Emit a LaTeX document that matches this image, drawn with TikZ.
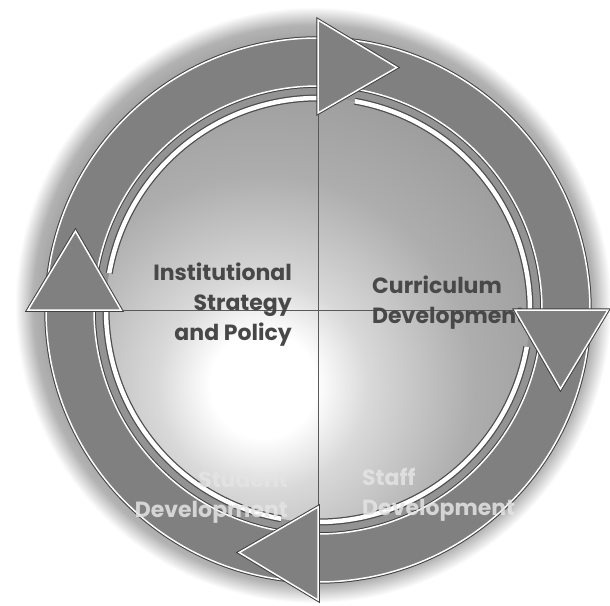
\documentclass[tikz,border=0pt]{standalone}
\usepackage{fontspec}
\setmainfont{Poppins}
\usepackage{xcolor}
\definecolor{bandc}{RGB}{128,128,128}
\definecolor{darkc}{RGB}{72,72,72}
\definecolor{lightc}{RGB}{228,228,228}
\pgfdeclareradialshading{haloshade}{\pgfpoint{0bp}{0bp}}{color(0bp)=(black!45); color(21bp)=(black!42); color(23.5bp)=(black!30); color(25bp)=(white); color(50bp)=(white)}
\pgfdeclareradialshading{discshade}{\pgfpoint{0bp}{0bp}}{color(0bp)=(white); color(4bp)=(white); color(8bp)=(black!15); color(16bp)=(black!32); color(25bp)=(black!40); color(50bp)=(black!40)}
\tikzset{
  quadtext/.style={font=\bfseries\fontsize{22}{30}\selectfont, inner sep=0pt},
  toptext/.style={quadtext, text=darkc},
  bottext/.style={quadtext, text=lightc, opacity=0.85},
  divider/.style={draw=black!65, line width=0.8pt},
  ringedge/.style={draw=black!70, line width=7pt},
  ringfill/.style={draw=white, line width=4.5pt},
  bandedge/.style={draw=black!75, line width=3.5pt},
  bandfill/.style={fill=bandc, draw=white, line width=1.5pt}
}

\begin{document}
\begin{tikzpicture}[x=1pt,y=1pt]
  \useasboundingbox (-318,-295) rectangle (292,310);

  % halo and disc
  \shade[shading=haloshade] (-5,5) circle (298pt);
  \begin{scope}
    \clip (0,0) circle (212pt);
    \shade[shading=discshade] (-55,-75) circle (330pt);
  \end{scope}

  \draw[divider] (-212,0) -- (212,0);
  \draw[divider] (0,212) -- (0,-212);

  \node[toptext, align=right, anchor=east] (strategy) at (-26,5) {Institutional\\Strategy\\and Policy};
  \node[toptext, align=left, anchor=west] (curriculum) at (54,7) {Curriculum\\Development};

  % inner ring, broken after each axis
  \foreach \a in {90,0,-90,-180} {
    \draw[ringedge] (\a+80:212pt) arc[start angle=\a+80, end angle=\a, radius=212pt];
    \draw[ringfill] (\a+80:212pt) arc[start angle=\a+80, end angle=\a, radius=212pt];
  }

  % arrow band
  \draw[bandedge] (0,0) circle (272pt) (0,0) circle (224pt);
  \filldraw[bandfill, even odd rule] (0,0) circle (272pt) (0,0) circle (224pt);

  \foreach \a in {90,0,-90,-180} {
    \draw[bandedge] (\a:290pt) -- (\a-18:255pt) -- (\a:197pt) -- cycle;
    \filldraw[bandfill] (\a:290pt) -- (\a-18:255pt) -- (\a:197pt) -- cycle;
  }

  \node[bottext, align=right, anchor=east] (student) at (-30,-187) {Student\\Development};
  \node[bottext, align=left, anchor=west] (staff) at (44,-185) {Staff\\Development};
\end{tikzpicture}
\end{document}
